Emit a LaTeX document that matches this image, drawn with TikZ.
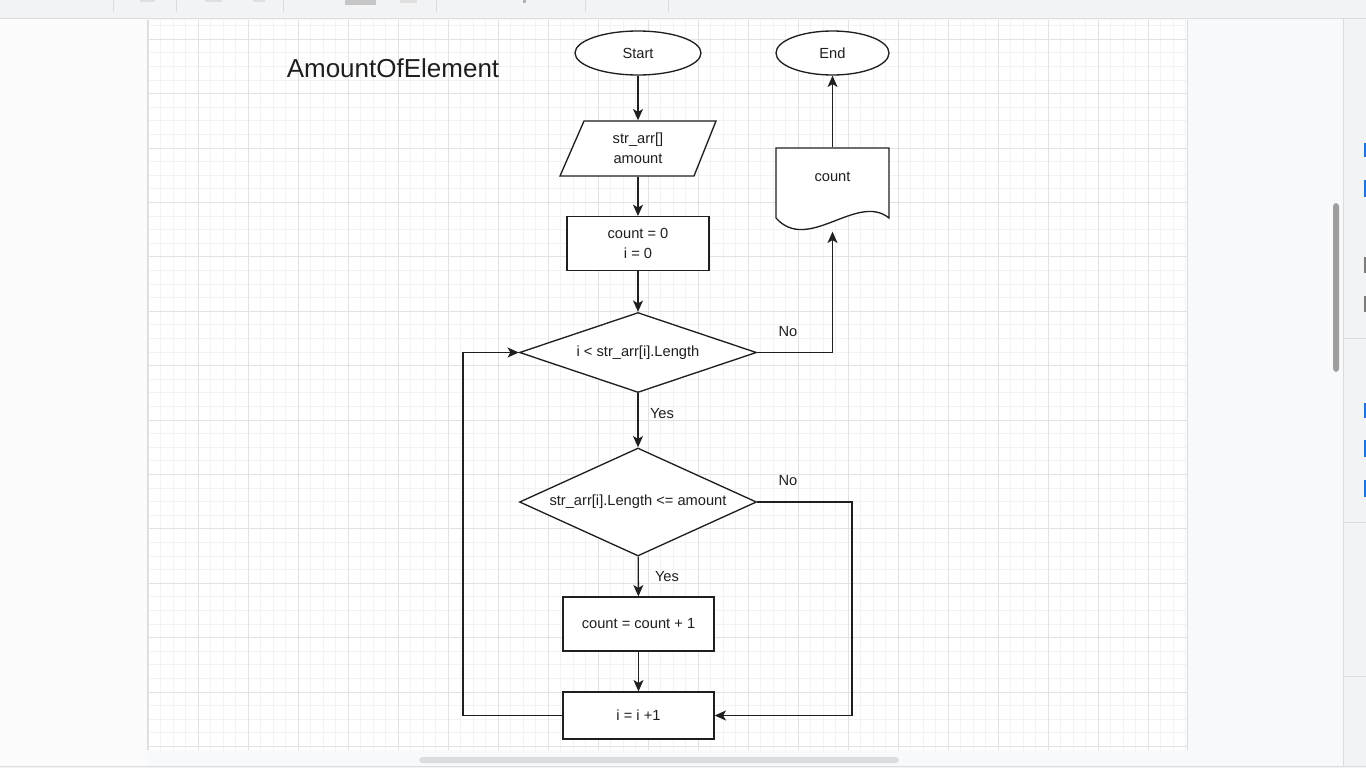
\documentclass[tikz,border=0pt]{standalone}
\usepackage{fontspec}
\setmainfont{Liberation Sans}
\usetikzlibrary{shapes.geometric,arrows.meta,calc}
\definecolor{ink}{HTML}{1F1F1F}
\definecolor{uibar}{HTML}{F1F3F4}
\definecolor{uiside}{HTML}{F8F9FA}
\definecolor{uileft}{HTML}{FBFBFB}
\definecolor{uiline}{HTML}{DADCE0}
\definecolor{gridminor}{HTML}{F3F3F3}
\definecolor{gridmajor}{HTML}{E2E2E2}
\definecolor{uiblue}{HTML}{1A73E8}
\definecolor{uigrey}{HTML}{7A7A7A}
\definecolor{thumb}{HTML}{9E9E9E}
\begin{document}
\begin{tikzpicture}[x=0.75pt,y=-0.75pt,
  base/.style={draw=ink, line width=1pt, fill=white, text=ink, align=center, inner sep=0pt,
    font=\fontsize{11}{15}\selectfont},
  startstop/.style={base, ellipse, minimum height=33pt},
  procbox/.style={base, rectangle, minimum width=113.25pt},
  decision/.style={base, diamond},
  ghost/.style={base, draw=none, fill=none},
  flow/.style={draw=ink, line width=1pt, -{Stealth[length=8.5pt,width=7.5pt,inset=2.2pt]}},
  lbl/.style={text=ink, inner sep=0pt, font=\fontsize{11}{13}\selectfont},
  outline/.style={draw=ink, line width=1pt, fill=white, line join=miter}
]
\useasboundingbox (0,0) rectangle (1366,768);
% ---------- window chrome ----------
\fill[uibar] (0,0) rectangle (1366,768);
\fill[uileft] (0,19) rectangle (147,766);
\fill[uiside] (147,19) rectangle (1343,766);
\draw[uiline, line width=0.75pt] (0,18.5) -- (1366,18.5);
\draw[uiline, line width=0.75pt] (0,766.5) -- (1366,766.5);
\draw[uiline, line width=0.75pt] (1343,19) -- (1343,766);
\foreach \yy in {338,522,676} \draw[uiline, line width=0.75pt] (1343,\yy) -- (1366,\yy);
\foreach \xx in {113,176,283,436,585,668} \draw[uiline, line width=0.75pt] (\xx,0) -- (\xx,12);
\fill[gray!45] (345,0) rectangle (376,5);
\fill[gray!25] (400,0) rectangle (417,3);
\fill[gray!25] (140,0) rectangle (155,2);
\fill[gray!25] (205,0) rectangle (222,2);
\fill[gray!25] (253,0) rectangle (265,2);
\fill[gray!60] (523,0) rectangle (526,3);
\fill[thumb, rounded corners=2.5pt] (1333,203) rectangle (1339,372);
\fill[uiline, rounded corners=2.5pt] (419,757) rectangle (899,763);
\foreach \ya/\yb in {143/157,180/197,403/418,440/457,480/497} \fill[uiblue] (1364,\ya) rectangle (1366,\yb);
\foreach \ya/\yb in {257/273,296/312} \fill[uigrey] (1364,\ya) rectangle (1366,\yb);
% ---------- canvas and grid ----------
\fill[white] (148,20) rectangle (1187,750);
\foreach \k in {0,...,83} {
  \pgfmathsetmacro\xx{148.3+12.5*\k}
  \draw[gridminor, line width=0.75pt] (\xx,20) -- (\xx,750);
}
\foreach \k in {0,...,53} {
  \pgfmathsetmacro\yy{25.7+13.6*\k}
  \draw[gridminor, line width=0.75pt] (148,\yy) -- (1187,\yy);
}
\foreach \k in {0,...,20} {
  \pgfmathsetmacro\xx{148.3+50*\k}
  \draw[gridmajor, line width=0.75pt] (\xx,20) -- (\xx,750);
}
\foreach \k in {0,...,13} {
  \pgfmathsetmacro\yy{39.3+54.4*\k}
  \draw[gridmajor, line width=0.75pt] (148,\yy) -- (1187,\yy);
}
\draw[uiline, line width=0.75pt] (147.5,20) -- (147.5,750);
\draw[uiline, line width=0.75pt] (1187,20) -- (1187,750);
% ---------- title ----------
\node[text=ink, inner sep=0pt, font=\fontsize{19.5}{22}\selectfont] (title) at (393,68) {AmountOfElement};
% ---------- shapes drawn directly ----------
\draw[outline] (584,121) -- (716,121) -- (694,176) -- (560,176) -- cycle;
\draw[outline] (776,148) -- (889,148) -- (889,218) .. controls (857,192) and (808,254) .. (776,218) -- cycle;
% ---------- nodes ----------
\node[startstop, minimum width=94.5pt] (start) at (638,53) {Start};
\node[startstop, minimum width=84.75pt] (end) at (832.5,53) {End};
\node[ghost, minimum width=117pt, minimum height=41.25pt] (in) at (638,148.5) {str\_arr[]\\amount};
\node[base, rectangle, minimum width=106.5pt, minimum height=40.5pt] (init) at (638,243.7) {count = 0\\i = 0};
\node[decision, shape aspect=3, minimum width=177.75pt, minimum height=60pt] (cond1) at (638,352.5) {i < str\_arr[i].Length};
\node[decision, shape aspect=2.2, minimum width=177.75pt, minimum height=81pt] (cond2) at (638,502) {str\_arr[i].Length <= amount};
\node[procbox, minimum height=40.5pt] (inc) at (638.5,624) {count = count + 1};
\node[procbox, minimum height=35.25pt] (step1) at (638.5,715.5) {i = i +1};
\node[ghost, minimum width=84.75pt, minimum height=62.25pt] (doc) at (832.5,189.5) {};
\node[lbl] (doclbl) at (832.5,177) {count};
% ---------- helper coordinates ----------
\coordinate (rx) at (852,0);
\coordinate (lx) at (463,0);
% ---------- connectors ----------
\draw[flow] (start) -- (in);
\draw[flow] (in) -- (init);
\draw[flow] (init) -- (cond1);
\draw[flow] (cond1.east) -| (doc.south);
\draw[flow] (doc.north) -- (end.south);
\draw[flow] (cond1) -- (cond2);
\draw[flow] (cond2.east) -- (cond2.east -| rx) |- (step1.east);
\draw[flow] (cond2) -- (inc);
\draw[flow] (inc) -- (step1);
\draw[flow] (step1.west) -- (step1.west -| lx) |- (cond1.west);
% ---------- labels ----------
\node[lbl] (no1) at (788,332) {No};
\node[lbl] (yes1) at (662,414) {Yes};
\node[lbl] (no2) at (788,481) {No};
\node[lbl] (yes2) at (667,577) {Yes};
\end{tikzpicture}
\end{document}
